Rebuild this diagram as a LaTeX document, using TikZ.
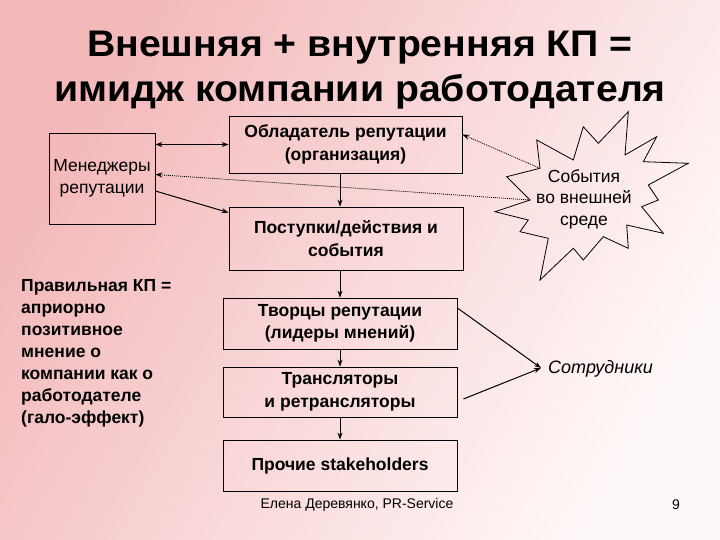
\documentclass[tikz,border=0pt]{standalone}
\usepackage{fontspec}
\setmainfont{Liberation Sans}
\newfontfamily\titlefont[FakeStretch=1.06]{Liberation Sans}
\usetikzlibrary{arrows.meta}
\definecolor{slidepink}{RGB}{243,184,186}
\definecolor{slidewhite}{RGB}{255,248,248}
\tikzset{
  box/.style = {draw, rectangle, line width=0.8pt, align=center,
    font=\bfseries\fontsize{17.5}{22.5}\selectfont},
  link/.style = {-{Stealth[length=7pt,width=5pt]}, line width=1pt},
  faint link/.style = {link, densely dotted, line width=0.8pt}
}

\begin{document}
\begin{tikzpicture}[x=1pt, y=-1pt]
\useasboundingbox (0,0) rectangle (720,540);
\shade[left color=slidepink, right color=slidewhite, shading angle=60]
  (0,0) rectangle (720,540);
\node[font=\titlefont\bfseries\fontsize{37}{45}\selectfont, align=center,
  anchor=north, inner sep=0pt] (title) at (360,30.5)
  {Внешняя + внутренняя КП =\\имидж компании работодателя};
\node[box, font=\fontsize{17.5}{22.5}\selectfont, minimum width=106, minimum height=91,
  inner sep=1pt] (mgr) at (102,178.5) {Менеджеры\\репутации};
\node[box, minimum width=233, minimum height=57] (owner) at (345.5,144.5)
  {Обладатель репутации\\(организация)};
\node[box, minimum width=234, minimum height=63] (acts) at (346,238.5)
  {Поступки/действия и\\события};
\node[box, minimum width=234, minimum height=51] (creators) at (340,323.5)
  {Творцы репутации\\(лидеры мнений)};
\node[box, minimum width=234, minimum height=50] (relay) at (340,392)
  {Трансляторы\\и ретрансляторы};
\node[box, minimum width=234, minimum height=51] (others) at (340,465.5)
  {Прочие stakeholders};
\node[anchor=north west, inner sep=0pt, align=left,
  font=\bfseries\fontsize{17.5}{22}\selectfont] (rule) at (21,279)
  {Правильная КП =\\априорно\\позитивное\\мнение о\\компании как о\\работодателе\\(гало-эффект)};
\draw[line width=0.8pt]
  (628.3,111.7) -- (625,155) -- (656.7,136.7) -- (643.3,161.7) -- (688.3,163.3)
  -- (648.3,185) -- (658.3,200) -- (641.7,206.7) -- (663.3,233.3) -- (626.7,225)
  -- (628.3,248.3) -- (603.3,236.7) -- (583.3,260) -- (573.3,248.3) -- (540,280)
  -- (548.3,238.3) -- (520,231.7) -- (528.3,220) -- (495,211.7)
  -- (530,200) coordinate (burstlow) -- (506.7,176.7)
  -- (540,168.3) coordinate (burstup) -- (536.7,140) -- (573.3,160)
  -- (583.3,126.7) -- (598.3,143.3) -- cycle;
\node[align=center, font=\fontsize{17.5}{21.5}\selectfont] (events) at (584,199)
  {События\\во внешней\\среде};
\node[anchor=west, inner sep=0pt, font=\itshape\fontsize{18}{21}\selectfont]
  (staff) at (548,369) {Сотрудники};
\node[font=\fontsize{14}{16}\selectfont] (author) at (357,505)
  {Елена Деревянко, PR-Service};
\node[font=\fontsize{14}{16}\selectfont] (page) at (676,505) {9};
\draw[link, {Stealth[length=7pt,width=5pt]}-{Stealth[length=7pt,width=5pt]}]
  (owner.west -| mgr.east) -- (owner.west);
\draw[link] ([yshift=-12.5pt]mgr.east) -- ([yshift=-6pt]acts.north west);
\draw[faint link] (burstlow) -- ([yshift=4pt]mgr.east);
\draw[faint link] (burstup) -- ([yshift=10pt]owner.east);
\draw[link, line width=0.8pt] (owner.south -| creators) -- (acts.north -| creators);
\draw[link, line width=0.8pt] (acts.south -| creators) -- (creators.north);
\draw[link, line width=0.8pt] (creators.south) -- (relay.north);
\draw[link, line width=0.8pt] (relay.south) -- (others.north);
\draw[link] ([yshift=15.5pt]creators.east) -- ([xshift=-7pt,yshift=1pt]staff.west);
\draw[link] ([xshift=6pt,yshift=-7pt]relay.east) -- ([xshift=-7pt,yshift=1pt]staff.west);
\end{tikzpicture}
\end{document}
